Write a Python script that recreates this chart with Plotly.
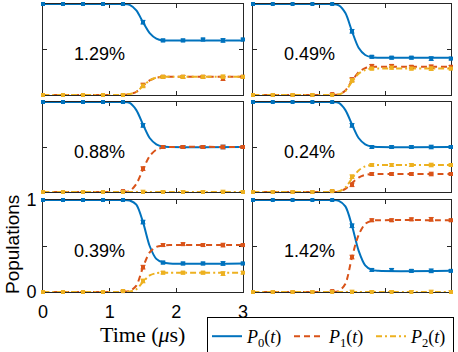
import plotly.graph_objects as go
from plotly.subplots import make_subplots

# Tiempos de medida y de la curva ajustada (us)
t_datos = [0, 0.3, 0.6, 0.9, 1.2, 1.5, 1.8, 2.1, 2.4, 2.7, 3.0]
t_ajuste = [0, 1.1, 1.2, 1.3, 1.4, 1.5, 1.6, 1.7, 1.8, 1.9, 3.0]

# orden de paneles: arr-izq, arr-der, med-izq, med-der, aba-izq, aba-der
etiquetas = ["1.29%", "0.49%", "0.88%", "0.24%", "0.39%", "1.42%"]

p0_datos = [
    [1, 1, 1, 1, 1, 0.80, 0.60, 0.60, 0.61, 0.60, 0.61],
    [1, 1, 1, 1, 1, 0.70, 0.42, 0.41, 0.41, 0.40, 0.40],
    [1, 1, 1, 1, 1, 0.74, 0.50, 0.50, 0.50, 0.50, 0.50],
    [1, 1, 1, 1, 1, 0.74, 0.50, 0.50, 0.50, 0.50, 0.50],
    [1, 1, 1, 1, 1, 0.76, 0.32, 0.31, 0.31, 0.31, 0.31],
    [1, 1, 1, 1, 1, 0.72, 0.24, 0.24, 0.23, 0.23, 0.23],
]
p1_datos = [
    [0, 0, 0, 0, 0, 0.11, 0.20, 0.20, 0.20, 0.18, 0.20],
    [0, 0, 0, 0, 0.01, 0.17, 0.32, 0.32, 0.31, 0.31, 0.31],
    [0, 0, 0, 0, 0.01, 0.26, 0.50, 0.50, 0.50, 0.50, 0.50],
    [0, 0, 0, 0, 0.01, 0.08, 0.20, 0.20, 0.20, 0.20, 0.20],
    [0, 0, 0, 0, 0.01, 0.27, 0.51, 0.52, 0.51, 0.51, 0.51],
    [0, 0, 0, 0, 0.01, 0.38, 0.78, 0.78, 0.79, 0.79, 0.78],
]
p2_datos = [
    [0, 0, 0, 0, 0, 0.10, 0.20, 0.20, 0.20, 0.20, 0.20],
    [0, 0, 0, 0, 0, 0.16, 0.29, 0.30, 0.29, 0.29, 0.29],
    [0, 0, 0, 0, 0, 0, 0, 0, 0, 0, 0],
    [0, 0, 0, 0, 0.01, 0.17, 0.30, 0.30, 0.30, 0.30, 0.30],
    [0, 0, 0, 0, 0.01, 0.12, 0.21, 0.21, 0.21, 0.20, 0.21],
    [0, 0, 0, 0, 0, 0, 0, 0, 0, 0, 0],
]
errores = [0.005, 0.005, 0.005, 0.005, 0.008, 0.02, 0.015, 0.015, 0.015, 0.02, 0.015]

p0_ajuste = [
    [1, 1, 1, 0.99, 0.93, 0.80, 0.68, 0.62, 0.60, 0.60, 0.60],
    [1, 1, 1, 0.985, 0.90, 0.70, 0.52, 0.44, 0.415, 0.41, 0.41],
    [1, 1, 1, 0.99, 0.91, 0.75, 0.60, 0.53, 0.505, 0.50, 0.50],
    [1, 1, 1, 0.99, 0.91, 0.75, 0.60, 0.53, 0.505, 0.50, 0.50],
    [1, 1, 1, 0.995, 0.95, 0.76, 0.50, 0.36, 0.32, 0.31, 0.31],
    [1, 1, 1, 0.99, 0.93, 0.72, 0.45, 0.29, 0.24, 0.23, 0.23],
]
p1_ajuste = [
    [0, 0, 0, 0.01, 0.035, 0.10, 0.16, 0.19, 0.20, 0.20, 0.20],
    [0, 0, 0, 0.005, 0.05, 0.155, 0.25, 0.295, 0.31, 0.31, 0.31],
    [0, 0, 0, 0.01, 0.09, 0.25, 0.40, 0.47, 0.495, 0.50, 0.50],
    [0, 0, 0, 0.004, 0.035, 0.10, 0.16, 0.19, 0.20, 0.20, 0.20],
    [0, 0, 0, 0.01, 0.07, 0.27, 0.43, 0.49, 0.505, 0.51, 0.51],
    [0, 0, 0, 0.01, 0.09, 0.38, 0.62, 0.74, 0.775, 0.78, 0.78],
]
p2_ajuste = [
    [0, 0, 0, 0.01, 0.035, 0.10, 0.16, 0.19, 0.20, 0.20, 0.20],
    [0, 0, 0, 0.005, 0.045, 0.145, 0.235, 0.275, 0.29, 0.29, 0.29],
    [0, 0, 0, 0, 0, 0, 0, 0, 0, 0, 0],
    [0, 0, 0, 0.006, 0.05, 0.15, 0.24, 0.285, 0.30, 0.30, 0.30],
    [0, 0, 0, 0.005, 0.03, 0.11, 0.18, 0.205, 0.21, 0.21, 0.21],
    [0, 0, 0, 0, 0, 0, 0, 0, 0, 0, 0],
]

colores = ["#0072BD", "#D95319", "#EDB120"]
trazos = ["solid", "6px,4px", "6px,3px,2px,3px"]
nombres = [
    "<i>P</i><sub>0</sub>(<i>t</i>)",
    "<i>P</i><sub>1</sub>(<i>t</i>)",
    "<i>P</i><sub>2</sub>(<i>t</i>)",
]

W, H = 458, 352
# limites de los paneles en pixeles
cols_px = [(43, 243), (253, 451)]
filas_px = [(4, 95), (102, 192), (200, 292)]

fig = make_subplots(rows=3, cols=2)

for k in range(6):
    fila = k // 2 + 1
    col = k % 2 + 1
    ajustes = [p0_ajuste[k], p1_ajuste[k], p2_ajuste[k]]
    datos = [p0_datos[k], p1_datos[k], p2_datos[k]]

    for i in range(3):
        fig.add_trace(
            go.Scatter(
                x=t_ajuste,
                y=ajustes[i],
                mode="lines",
                line=dict(color=colores[i], width=2, dash=trazos[i], shape="spline", smoothing=0.8),
                name=nombres[i],
                legendgroup=str(i),
                showlegend=(k == 0),
            ),
            row=fila,
            col=col,
        )
    for i in range(3):
        fig.add_trace(
            go.Scatter(
                x=t_datos,
                y=datos[i],
                mode="markers",
                marker=dict(color=colores[i], symbol="square", size=4),
                error_y=dict(type="data", array=errores, thickness=1, width=2.5, color=colores[i]),
                cliponaxis=False,
                showlegend=False,
                legendgroup=str(i),
            ),
            row=fila,
            col=col,
        )

    fig.add_annotation(
        x=0.85, y=0.45, text=etiquetas[k], showarrow=False,
        font=dict(family="Arial, Liberation Sans", size=18, color="black"),
        row=fila, col=col,
    )

    dom_x = [cols_px[col - 1][0] / W, cols_px[col - 1][1] / W]
    dom_y = [1 - filas_px[fila - 1][1] / H, 1 - filas_px[fila - 1][0] / H]
    etiquetado = k == 4
    fig.update_xaxes(
        domain=dom_x, range=[0, 3], tickvals=[0, 1, 2, 3],
        ticks="inside", ticklen=4, tickcolor="#262626", ticklabelstandoff=3,
        showline=True, linecolor="#262626", linewidth=1, mirror="ticks",
        showgrid=False, zeroline=False, showticklabels=etiquetado,
        layer="below traces", row=fila, col=col,
    )
    fig.update_yaxes(
        domain=dom_y, range=[0, 1], tickvals=[0, 0.5, 1], ticktext=["0", "", "1"],
        ticks="inside", ticklen=4, tickcolor="#262626", ticklabelstandoff=2,
        showline=True, linecolor="#262626", linewidth=1, mirror="ticks",
        showgrid=False, zeroline=False, showticklabels=etiquetado,
        layer="below traces", row=fila, col=col,
    )

fig.add_annotation(
    x=142 / W, y=1 - 334 / H, xref="paper", yref="paper", text="Time (<i>μ</i>s)",
    xanchor="center", yanchor="middle",
    showarrow=False, font=dict(family="Liberation Serif", size=22, color="black"),
)
fig.add_annotation(
    x=12 / W, y=1 - 245 / H, xref="paper", yref="paper", text="Populations",
    xanchor="center", yanchor="middle", textangle=-90, showarrow=False,
    font=dict(family="Arial, Liberation Sans", size=19, color="black"),
)

fig.update_layout(
    width=W, height=H, margin=dict(l=0, r=0, t=0, b=0, autoexpand=False),
    plot_bgcolor="white", paper_bgcolor="white",
    font=dict(family="Arial, Liberation Sans", size=18, color="black"),
    legend=dict(
        orientation="h", x=207 / W, y=1 - 317 / H, xanchor="left", yanchor="top",
        bordercolor="black", borderwidth=1, itemwidth=30,
        entrywidth=37, entrywidthmode="pixels",
        font=dict(family="Liberation Serif", size=18), tracegroupgap=0,
    ),
)

# quitar el margen del body para que la figura quede en (0, 0)
fig.write_html(
    "out.html",
    config={"displayModeBar": False},
    post_script="document.body.style.margin='0px';",
)
